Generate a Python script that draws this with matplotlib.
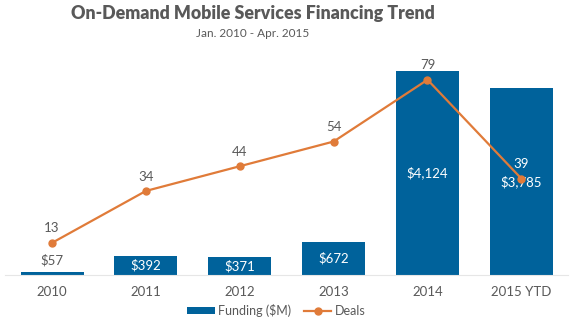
import numpy as np
import matplotlib.pyplot as plt

years = ["2010", "2011", "2012", "2013", "2014", "2015 YTD"]
funding = [57, 392, 371, 672, 4124, 3785]
deals = [13, 34, 44, 54, 79, 39]

blue = "#00629b"
orange = "#e07b39"
grey = "#595959"

plt.rcParams["font.family"] = ["Lato", "DejaVu Sans"]

fig = plt.figure(figsize=(5.7, 3.25), dpi=100)
ax = fig.add_axes([0.009, 0.154, 0.988, 0.723])
x = np.arange(len(years))

bars = ax.bar(x, funding, width=0.67, color=blue, label="Funding ($M)", zorder=2)
ax.set_ylim(0, 4750)
ax.set_xlim(-0.5, 5.5)

for xi, v in zip(x, funding):
    txt = f"${v:,}"
    if v < 200:
        ax.text(xi, v + 120, txt, ha="center", va="bottom", color=grey, fontsize=9.5)
    else:
        ax.text(xi, v / 2, txt, ha="center", va="center", color="white", fontsize=9.5)

ax2 = ax.twinx()
ax2.set_ylim(0, 95.1)
ax2.plot(x, deals, color=orange, lw=1.6, marker="o", ms=5, label="Deals", zorder=3)
for xi, d in zip(x, deals):
    c = "white" if d == 39 else grey
    ax2.annotate(str(d), (xi, d), xytext=(0, 6), textcoords="offset points",
                 ha="center", va="bottom", color=c, fontsize=9.5)

for a in (ax, ax2):
    for s in a.spines.values():
        s.set_visible(False)
    a.set_yticks([])
ax.spines["bottom"].set_visible(True)
ax.spines["bottom"].set_color("#e6e6e6")
ax.tick_params(axis="x", length=0, pad=8, labelsize=9.5, labelcolor=grey)
ax.set_xticks(x, years)

h1, l1 = ax.get_legend_handles_labels()
h2, l2 = ax2.get_legend_handles_labels()
fig.legend(h1 + h2, l1 + l2, loc="lower center", bbox_to_anchor=(0.485, -0.01), ncol=2,
           frameon=False, fontsize=9, labelcolor=grey, handlelength=2.2,
           handleheight=0.45, columnspacing=1.0, handletextpad=0.3)

fig.text(0.443, 0.985, "On-Demand Mobile Services Financing Trend", ha="center", va="top",
         fontsize=12.8, fontweight="heavy", color=grey)
fig.text(0.443, 0.915, "Jan. 2010 - Apr. 2015", ha="center", va="top", fontsize=8.5, color=grey)

fig.savefig("out.png", dpi=100)
